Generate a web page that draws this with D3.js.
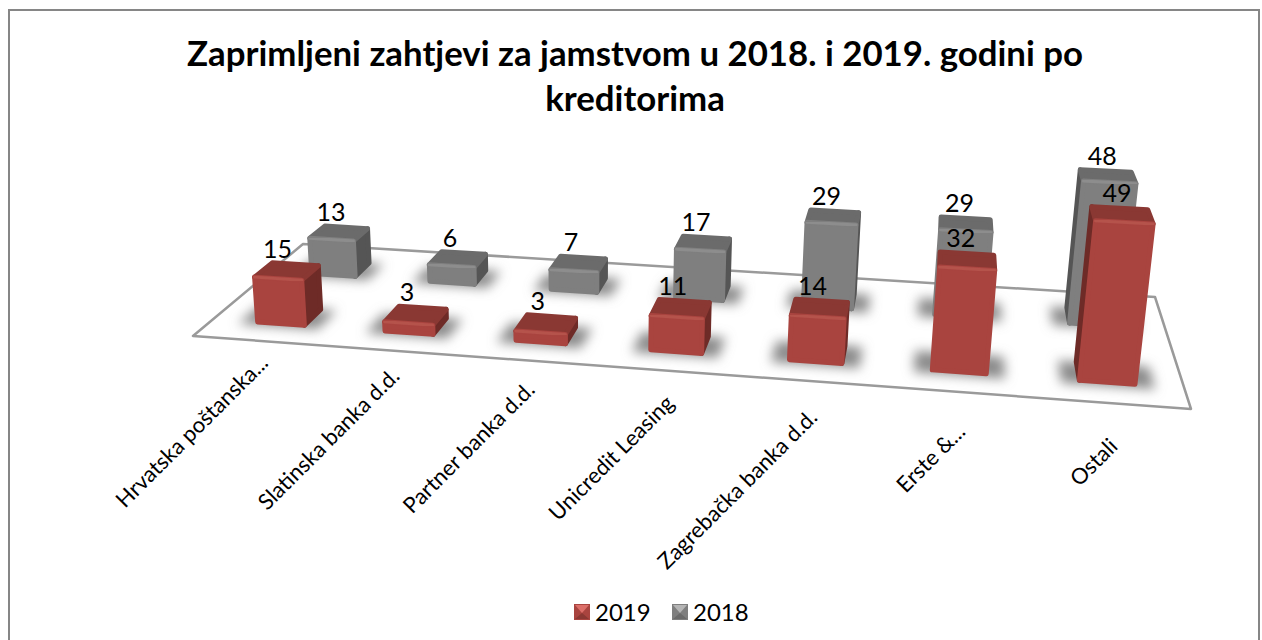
<!DOCTYPE html>
<html><head><meta charset="utf-8">
<script src="https://cdn.jsdelivr.net/npm/d3@7"></script>
<style>html,body{margin:0;background:#fff}svg{display:block}text{font-family:Lato,Carlito,sans-serif;fill:#000}</style>
</head><body><svg id="c" width="1262" height="640"></svg>
<script>
const titleLines = ["Zaprimljeni zahtjevi za jamstvom u 2018. i 2019. godini po", "kreditorima"];
const categories = ["Hrvatska poštanska...", "Slatinska banka d.d.", "Partner banka d.d.", "Unicredit Leasing", "Zagrebačka banka d.d.", "Erste &...", "Ostali"];
const seriesNames = ["2019", "2018"];
const values2019 = [15, 3, 3, 11, 14, 32, 49];
const values2018 = [13, 6, 7, 17, 29, 29, 48];

const svg = d3.select("#c");
const defs = svg.append("defs");
defs.append("filter").attr("id","blur").attr("x","-40%").attr("y","-100%").attr("width","180%").attr("height","300%")
  .append("feGaussianBlur").attr("stdDeviation",6);
defs.append("filter").attr("id","soft").append("feGaussianBlur").attr("stdDeviation",0.7);

// frame
svg.append("rect").attr("x",9).attr("y",10).attr("width",1250).attr("height",640).attr("fill","#fff").attr("stroke","#868686").attr("stroke-width",2);

// title
svg.append("g").selectAll("text").data(titleLines).join("text")
  .attr("x",635).attr("y",(d,i)=>66+i*45).attr("text-anchor","middle")
  .attr("font-size",34.8).attr("font-weight",700).text(d=>d);

// floor homography: unit square -> quad
const quad = [[193,336],[1191,409],[1155,297],[303,244]];
function makeHomography(q){
  const [[x0,y0],[x1,y1],[x2,y2],[x3,y3]] = q;
  const dx1=x1-x2,dx2=x3-x2,sx=x0-x1+x2-x3,dy1=y1-y2,dy2=y3-y2,sy=y0-y1+y2-y3;
  const den=dx1*dy2-dx2*dy1;
  const g=(sx*dy2-dx2*sy)/den,h=(dx1*sy-sx*dy1)/den;
  const a=x1-x0+g*x1,b=x3-x0+h*x3,c=x0,d=y1-y0+g*y1,e=y3-y0+h*y3,f=y0;
  return (u,v)=>{const w=g*u+h*v+1;return [(a*u+b*v+c)/w,(d*u+e*v+f)/w];};
}
const floor = makeHomography(quad);
const xBand = d3.scaleBand().domain(categories).range([0.006,0.998]).paddingInner(0.63).paddingOuter(0.31);
const zBand = d3.scaleBand().domain(seriesNames).range([0.165,0.83]).paddingInner(0.696);
const heightScale = d3.scaleLinear().domain([0,49]).range([0,1]);
const depthHeight = d3.scaleLinear().domain([0,1]).range([161,133]);
const vp = [590,5200];

function pt(u,v,val){
  const [x,y]=floor(u,v);
  const h=heightScale(val)*depthHeight(v)*(0.93+0.1*u);
  return [x+(x-vp[0])/(vp[1]-y)*h, y-h];
}
const line=d3.line();
const palette = {
  "2019":{front:"#a9443f",frontEdge:"#b5524c",top:"#8a3833",side:"#6e2b27",light:"#dc6f69",shadow:"#8a8a8a"},
  "2018":{front:"#7f7f7f",frontEdge:"#8d8d8d",top:"#6b6b6b",side:"#555555",light:"#b5b5b5",shadow:"#8a8a8a"}
};

// floor
const gFloor=svg.append("g");
gFloor.append("path").attr("d",line(quad)+"Z").attr("fill","#fff").attr("stroke","#9a9a9a").attr("stroke-width",2.5).attr("stroke-linejoin","round");

const rows=[{s:"2018",vals:values2018},{s:"2019",vals:values2019}];
const labels=[];
rows.forEach(r=>{
  const col=palette[r.s];
  const v0=zBand(r.s),v1=v0+zBand.bandwidth();
  const g=svg.append("g");
  categories.forEach(cat=>{
    const u0=xBand(cat),u1=u0+xBand.bandwidth();
    const e=0.018;
    g.append("path").attr("d",line([floor(u0-e,v0-0.03),floor(u1+e,v0-0.03),floor(u1+e,v1),floor(u0-e,v1)])+"Z")
      .attr("fill",col.shadow).attr("filter","url(#blur)");
  });
  categories.forEach((cat,i)=>{
    const val=r.vals[i];
    const u0=xBand(cat),u1=u0+xBand.bandwidth();
    const fl=pt(u0,v0,0),fr=pt(u1,v0,0),bl=pt(u0,v1,0),br=pt(u1,v1,0);
    const tfl=pt(u0,v0,val),tfr=pt(u1,v0,val),tbl=pt(u0,v1,val),tbr=pt(u1,v1,val);
    const face=(p,c)=>g.append("path").attr("d",line(p)+"Z").attr("fill",c).attr("stroke",c)
      .attr("stroke-width",5).attr("stroke-linejoin","round");
    if(bl[0]<fl[0]) face([fl,bl,tbl,tfl],col.side);
    if(br[0]>fr[0]) face([fr,br,tbr,tfr],col.side);
    face([tfl,tfr,tbr,tbl],col.top);
    face([fl,fr,tfr,tfl],col.front);
    g.append("path").attr("d",line([tfl,tfr])).attr("stroke",col.frontEdge).attr("stroke-width",3)
      .attr("stroke-linecap","round").attr("fill","none").attr("filter","url(#soft)");
    const u=(u0+u1)/2;
    labels.push({x:(tfl[0]+tfr[0])/2-8*u,y:(tbl[1]+tbr[1])/2-15,t:val});
  });
});

// data labels
svg.append("g").selectAll("text").data(labels).join("text")
  .attr("x",d=>d.x).attr("y",d=>d.y).attr("dy","0.35em").attr("text-anchor","middle")
  .attr("font-size",25).text(d=>d.t);

// category labels
svg.append("g").selectAll("text").data(categories).join("text")
  .attr("transform",d=>{const u=xBand(d)+xBand.bandwidth()/2,p=floor(u,0);return `translate(${p[0]+2},${p[1]+16+25*u}) rotate(-45)`;})
  .attr("text-anchor","end").attr("dy","0.35em").attr("font-size",22).text(d=>d);

// legend
const legendX=d3.scalePoint().domain(seriesNames).range([574,672]);
const lg=svg.append("g").selectAll("g").data(seriesNames).join("g").attr("transform",d=>`translate(${legendX(d)},604)`);
lg.append("rect").attr("width",16).attr("height",16).attr("fill",d=>palette[d].front);
lg.append("path").attr("d","M1,1L15,1L8,9Z").attr("fill",d=>palette[d].light);
lg.append("path").attr("d","M1,15L15,15L8,9Z").attr("fill",d=>palette[d].top);
lg.append("text").attr("x",21).attr("y",8).attr("dy","0.36em").attr("font-size",24).text(d=>d);
</script></body></html>
